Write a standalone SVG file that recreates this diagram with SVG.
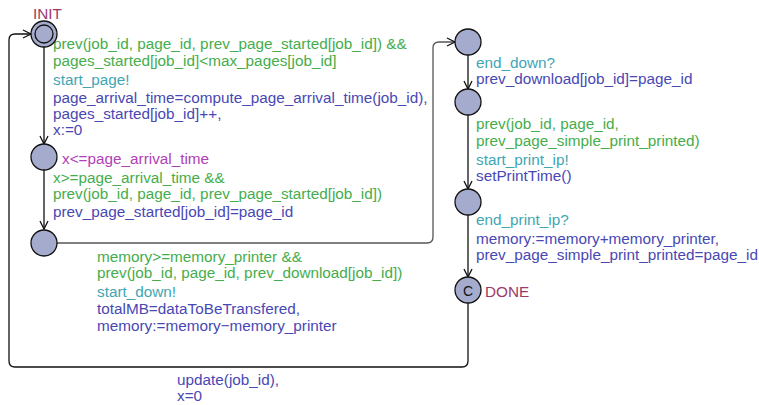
<svg xmlns="http://www.w3.org/2000/svg" width="759" height="405" viewBox="0 0 759 405">
  <style>
    text { font-family: "Liberation Sans", Arial, sans-serif; font-size: 15.3px; }
    .name { fill: #9b3a68; }
    .inv { fill: #b040b8; }
    .guard { fill: #45ad4c; }
    .sync { fill: #3fa6b4; }
    .upd { fill: #4848b4; }
    .loc { fill: #a5abcc; stroke: #111; stroke-width: 1.3; }
    .edge { fill: none; stroke: #111; stroke-width: 1.3; marker-end: url(#arrow); }
  </style>
  <defs>
    <marker id="arrow" markerUnits="userSpaceOnUse" markerWidth="12" markerHeight="12" viewBox="-10 -6 12 12" refX="0" refY="0" orient="auto">
      <path d="M -8 -4 L 0 0 L -8 4" fill="none" stroke="#111" stroke-width="1.3"/>
    </marker>
  </defs>
  <rect width="759" height="405" fill="#ffffff"/>

  <!-- transitions -->
  <g id="edges">
    <path class="edge" d="M 44 47 L 44 144"/>
    <path class="edge" d="M 44 170 L 44 229"/>
    <path class="edge" d="M 57 243 L 427 243 Q 433 243 433 237 L 433 48 Q 433 42 439 42 L 455 42" style="stroke:#555"/>
    <path class="edge" d="M 468 55 L 468 89"/>
    <path class="edge" d="M 468 115 L 468 189"/>
    <path class="edge" d="M 468 215 L 468 277"/>
    <path class="edge" d="M 468 303 L 468 361 Q 468 367 462 367 L 15 367 Q 9 367 9 361 L 9 40 Q 9 34 15 34 L 31 34"/>
  </g>

  <!-- edge labels -->
  <g id="labels">
    <text class="guard" x="53" y="49">prev(job_id, page_id, prev_page_started[job_id]) &amp;&amp;</text>
    <text class="guard" x="53" y="66">pages_started[job_id]&lt;max_pages[job_id]</text>
    <text class="sync" x="53" y="85">start_page!</text>
    <text class="upd" x="53" y="103">page_arrival_time=compute_page_arrival_time(job_id),</text>
    <text class="upd" x="53" y="119">pages_started[job_id]++,</text>
    <text class="upd" x="53" y="135">x:=0</text>

    <text class="guard" x="53" y="183">x&gt;=page_arrival_time &amp;&amp;</text>
    <text class="guard" x="53" y="199">prev(job_id, page_id, prev_page_started[job_id])</text>
    <text class="upd" x="53" y="217">prev_page_started[job_id]=page_id</text>

    <text class="guard" x="97" y="262">memory&gt;=memory_printer &amp;&amp;</text>
    <text class="guard" x="97" y="278">prev(job_id, page_id, prev_download[job_id])</text>
    <text class="sync" x="97" y="297">start_down!</text>
    <text class="upd" x="97" y="314">totalMB=dataToBeTransfered,</text>
    <text class="upd" x="97" y="331">memory:=memory−memory_printer</text>

    <text class="sync" x="476" y="68">end_down?</text>
    <text class="upd" x="476" y="84">prev_download[job_id]=page_id</text>

    <text class="guard" x="476" y="129">prev(job_id, page_id,</text>
    <text class="guard" x="476" y="146">prev_page_simple_print_printed)</text>
    <text class="sync" x="476" y="165">start_print_ip!</text>
    <text class="upd" x="476" y="181">setPrintTime()</text>

    <text class="sync" x="476" y="225">end_print_ip?</text>
    <text class="upd" x="476" y="244">memory:=memory+memory_printer,</text>
    <text class="upd" x="476" y="260">prev_page_simple_print_printed=page_id</text>

    <text class="upd" x="177" y="385">update(job_id),</text>
    <text class="upd" x="177" y="401">x=0</text>
  </g>

  <!-- locations -->
  <g id="init">
    <circle class="loc" cx="44" cy="34" r="13"/>
    <circle class="loc" cx="44" cy="34" r="9"/>
    <text class="name" x="33" y="19">INIT</text>
  </g>
  <g id="wait_arrival">
    <circle class="loc" cx="44" cy="157" r="13"/>
    <text class="inv" x="62" y="164">x&lt;=page_arrival_time</text>
  </g>
  <g id="ready">
    <circle class="loc" cx="44" cy="243" r="13"/>
  </g>
  <g id="downloading">
    <circle class="loc" cx="468" cy="42" r="13"/>
  </g>
  <g id="downloaded">
    <circle class="loc" cx="468" cy="102" r="13"/>
  </g>
  <g id="printing">
    <circle class="loc" cx="468" cy="202" r="13"/>
  </g>
  <g id="done">
    <circle class="loc" cx="468" cy="290" r="13"/>
    <text x="468" y="295.5" text-anchor="middle" fill="#111" style="font-size:14px">C</text>
    <text class="name" x="485" y="297">DONE</text>
  </g>
</svg>
